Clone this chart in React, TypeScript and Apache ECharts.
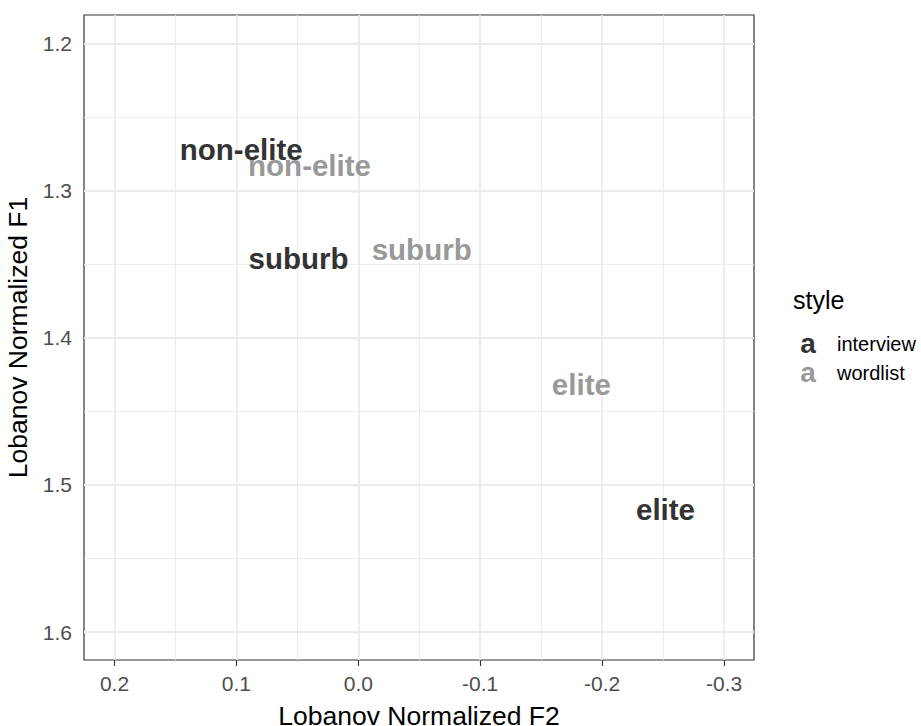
import React, { useEffect, useRef } from "react";
import * as echarts from "echarts";

// Vowel means by region, for the two speech styles
const regions = ["non-elite", "suburb", "elite"];
const interviewF2 = [0.096, 0.049, -0.252];
const interviewF1 = [1.272, 1.346, 1.5165];
const wordlistF2 = [0.040, -0.052, -0.183];
const wordlistF1 = [1.283, 1.340, 1.432];

const styleNames = ["interview", "wordlist"];
const styleColors = ["#333333", "#999999"];

const xMajor = [0.2, 0.1, 0.0, -0.1, -0.2, -0.3];
const xMinor = [0.15, 0.05, -0.05, -0.15, -0.25];
const yMajor = [1.2, 1.3, 1.4, 1.5, 1.6];
const yMinor = [1.25, 1.35, 1.45, 1.55];

const X_MIN = -0.3246;
const X_MAX = 0.225;
const Y_MIN = 1.1805;
const Y_MAX = 1.619;

const FONT = "'Liberation Sans', Arial, Helvetica, sans-serif";

export default function App() {
  const ref = useRef<HTMLDivElement>(null);

  useEffect(() => {
    if (!ref.current) return;
    const chart = echarts.init(ref.current, undefined, { renderer: "svg" });

    const textSeries = (idx: number, xs: number[], ys: number[], z: number) => ({
      type: "scatter",
      name: styleNames[idx],
      z,
      symbol: "circle",
      symbolSize: 1,
      itemStyle: { color: "rgba(0,0,0,0)" },
      silent: true,
      data: regions.map((r, i) => ({ name: r, value: [xs[i], ys[i]] })),
      label: {
        show: true,
        position: "inside",
        formatter: (p: any) => p.name,
        color: styleColors[idx],
        textBorderWidth: 0,
        textBorderColor: "transparent",
        opacity: 1,
        fontFamily: FONT,
        fontWeight: "bold",
        fontSize: 29.5,
      },
    });

    const gridLine = (width: number) => ({
      color: "#EBEBEB",
      width,
      type: "solid",
    });

    chart.setOption({
      animation: false,
      backgroundColor: "#ffffff",
      grid: {
        left: 84,
        right: 167,
        top: 15,
        bottom: 66,
        outerBoundsMode: "none",
        containLabel: false,
        show: true,
        borderColor: "#333333",
        borderWidth: 1.2,
        backgroundColor: "#ffffff",
      },
      xAxis: {
        type: "value",
        inverse: true,
        min: X_MIN,
        max: X_MAX,
        name: "Lobanov Normalized F2",
        nameLocation: "middle",
        nameGap: 42,
        nameTextStyle: { fontFamily: FONT, fontSize: 26.5, color: "#000000" },
        axisLine: { show: false },
        axisTick: {
          show: true,
          length: 6,
          customValues: xMajor,
          lineStyle: { color: "#333333", width: 1.1 },
        },
        axisLabel: {
          customValues: xMajor,
          margin: 13,
          fontFamily: FONT,
          fontSize: 21,
          color: "#4D4D4D",
          formatter: (v: number) => v.toFixed(1),
        },
        splitLine: { show: false },
      },
      yAxis: {
        type: "value",
        inverse: true,
        min: Y_MIN,
        max: Y_MAX,
        name: "Lobanov Normalized F1",
        nameLocation: "middle",
        nameGap: 47,
        nameTextStyle: { fontFamily: FONT, fontSize: 26.5, color: "#000000" },
        axisLine: { show: false },
        axisTick: {
          show: true,
          length: 6,
          customValues: yMajor,
          lineStyle: { color: "#333333", width: 1.1 },
        },
        axisLabel: {
          customValues: yMajor,
          margin: 12,
          fontFamily: FONT,
          fontSize: 21,
          color: "#4D4D4D",
          formatter: (v: number) => v.toFixed(1),
        },
        splitLine: { show: false },
      },
      series: [
        {
          type: "scatter",
          name: "grid",
          z: 1,
          silent: true,
          data: [],
          markLine: {
            silent: true,
            symbol: ["none", "none"],
            label: { show: false },
            emphasis: { disabled: true },
            data: [
              ...xMinor.map((v) => ({ xAxis: v, lineStyle: gridLine(0.9) })),
              ...yMinor.map((v) => ({ yAxis: v, lineStyle: gridLine(0.9) })),
              ...xMajor.map((v) => ({ xAxis: v, lineStyle: gridLine(1.8) })),
              ...yMajor.map((v) => ({ yAxis: v, lineStyle: gridLine(1.8) })),
            ],
          },
        },
        textSeries(1, wordlistF2, wordlistF1, 5),
        textSeries(0, interviewF2, interviewF1, 6),
      ],
      graphic: [
        {
          type: "text",
          x: 793,
          y: 300,
          style: {
            text: "style",
            font: `25px ${FONT}`,
            fill: "#000000",
            align: "left",
            verticalAlign: "middle",
          },
        },
        ...styleNames.flatMap((s, i) => [
          {
            type: "text",
            x: 808,
            y: 343 + i * 29,
            style: {
              text: "a",
              font: `bold 28px ${FONT}`,
              fill: styleColors[i],
              align: "center",
              verticalAlign: "middle",
            },
          },
          {
            type: "text",
            x: 837,
            y: 344 + i * 29,
            style: {
              text: s,
              font: `20px ${FONT}`,
              fill: "#000000",
              align: "left",
              verticalAlign: "middle",
            },
          },
        ]),
      ],
    });

    return () => chart.dispose();
  }, []);

  return (
    <div
      ref={ref}
      style={{ position: "fixed", left: 0, top: 0, width: 921, height: 726 }}
    />
  );
}
